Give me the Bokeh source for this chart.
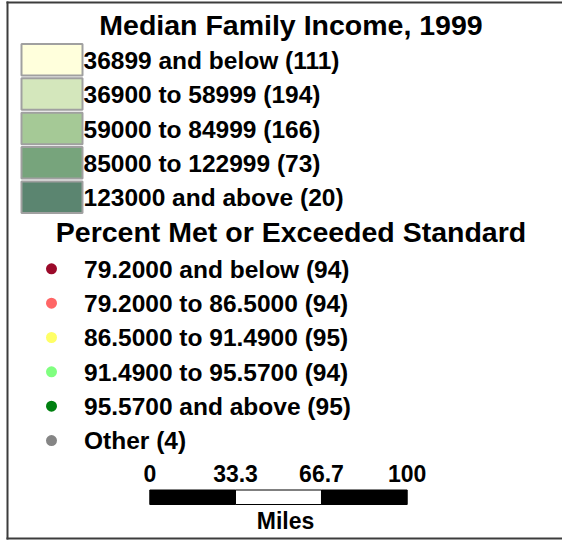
from bokeh.plotting import figure
from bokeh.models import Range1d, ColumnDataSource
from bokeh.core.properties import value
from bokeh.embed import file_html
from bokeh.resources import INLINE

# ---- data ----
income_title = "Median Family Income, 1999"
income_classes = ["36899 and below", "36900 to 58999", "59000 to 84999",
                  "85000 to 122999", "123000 and above"]
income_counts = [111, 194, 166, 73, 20]

pct_title = "Percent Met or Exceeded Standard"
pct_classes = ["79.2000 and below", "79.2000 to 86.5000", "86.5000 to 91.4900",
               "91.4900 to 95.5700", "95.5700 and above", "Other"]
pct_counts = [94, 94, 95, 94, 95, 4]

scale_ticks = [0, 33.3, 66.7, 100]
scale_unit = "Miles"

# ---- styles ----
income_colors = ["#ffffdc", "#d4e7bc", "#a5c996", "#77a47c", "#5b8570"]
pct_colors = ["#9b0a2a", "#ff6666", "#ffff66", "#80ff80", "#008010", "#858585"]
FONT = value("Liberation Sans")

W, H = 562, 540
p = figure(width=W, height=H, output_backend="svg", toolbar_location=None,
           x_range=Range1d(0, W), y_range=Range1d(H, 0),
           min_border=0)
p.axis.visible = False
p.grid.visible = False
p.outline_line_color = None
p.background_fill_color = "white"
p.border_fill_color = "white"

# frame border (left, top, bottom)
p.segment(x0=[7, 6, 6], y0=[1, 2, 538], x1=[7, W, W], y1=[539, 2, 538],
          line_color="#3c3c3c", line_width=2)

# ---- income legend ----
row_h = 34.35
top0 = 43.5
box_top = [top0 + i * row_h for i in range(len(income_classes))]
box_src = ColumnDataSource(dict(
    top=box_top, bottom=[t + 31.5 for t in box_top],
    left=[21] * len(box_top), right=[82] * len(box_top), color=income_colors))
p.quad(top="top", bottom="bottom", left="left", right="right", source=box_src,
       fill_color="color", line_color="#a0a0a0", line_width=2)

inc_labels = [f"{c} ({n})" for c, n in zip(income_classes, income_counts)]
p.text(x=[83] * len(inc_labels), y=[t + 16.3 for t in box_top], text=inc_labels,
       text_font=FONT, text_font_style="bold", text_font_size="24.5px",
       text_color="black", text_baseline="alphabetic", text_align="left")

p.text(x=[290.5], y=[24.5], text=[income_title], text_font=FONT,
       text_font_style="bold", text_font_size="28.5px", text_color="black",
       text_baseline="alphabetic", text_align="center")

# ---- percent legend ----
p.text(x=[290.5], y=[231.7], text=[pct_title], text_font=FONT,
       text_font_style="bold", text_font_size="28.5px", text_color="black",
       text_baseline="alphabetic", text_align="center")

dot_y = [268.3 + i * 34.35 for i in range(len(pct_classes))]
p.scatter(x=[51] * len(dot_y), y=dot_y, size=11, fill_color=pct_colors,
          line_color=None, marker="circle")
pct_labels = [f"{c} ({n})" for c, n in zip(pct_classes, pct_counts)]
p.text(x=[83.5] * len(pct_labels), y=[y + 0.2 for y in dot_y], text=pct_labels,
       text_font=FONT, text_font_style="bold", text_font_size="24.5px",
       text_color="black", text_baseline="alphabetic", text_align="left")

# ---- scale bar ----
x0, length = 149.3, 257.4
mx = max(scale_ticks)
tx = [x0 + v / mx * length for v in scale_ticks]
seg_colors = ["black", "white", "black"]
p.quad(left=tx[:-1], right=tx[1:], top=[489.5] * 3, bottom=[504] * 3,
       fill_color=seg_colors, line_color="black", line_width=1)
tick_labels = [("%g" % v) for v in scale_ticks]
p.text(x=tx, y=[473.3] * len(tx), text=tick_labels, text_font=FONT,
       text_font_style="bold", text_font_size="23px", text_color="black",
       text_baseline="alphabetic", text_align="center")
p.text(x=[285], y=[520], text=[scale_unit], text_font=FONT,
       text_font_style="bold", text_font_size="23px", text_color="black",
       text_baseline="alphabetic", text_align="center")

open("out.html", "w").write(file_html(p, INLINE))
